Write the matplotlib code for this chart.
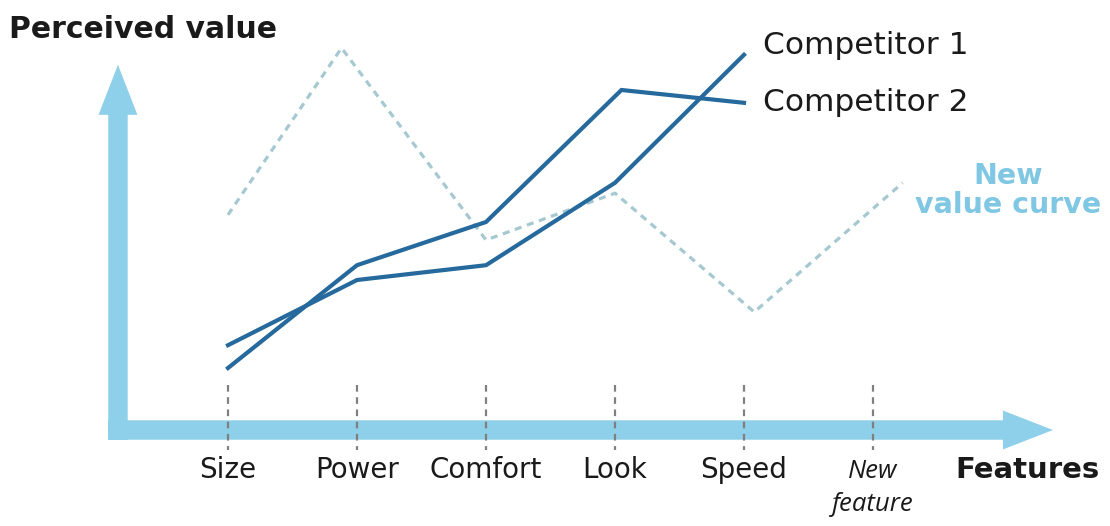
import matplotlib
matplotlib.use("Agg")
import matplotlib.pyplot as plt
from matplotlib.patches import FancyArrowPatch, ArrowStyle

# categories along the feature axis
features = ["Size", "Power", "Comfort", "Look", "Speed", "New\nfeature"]
feat_x = [0, 1, 2, 3, 4, 5]

# perceived value
comp1_x = [0, 1, 2, 3, 4]
comp1_y = [2.12, 3.75, 4.12, 6.18, 9.38]
comp2_x = [0, 1, 2, 3.05, 4]
comp2_y = [1.55, 4.12, 5.2, 8.5, 8.18]
new_x = [0, 0.88, 2, 3, 4.08, 5.23]
new_y = [5.38, 9.55, 4.75, 5.92, 2.95, 6.18]

AXIS_BLUE = "#8ecfe9"
LINE_BLUE = "#26699c"
DASH_COL = "#a6c8d1"

fig = plt.figure(figsize=(11.1, 5.26), dpi=100)
ax = fig.add_axes([0, 0, 1, 1])
# pixel-matched limits: 129 px per feature, 40 px per value unit
ax.set_xlim(-228 / 129, (1110 - 228) / 129)
ax.set_ylim(-96 / 40, 430 / 40)
ax.axis("off")

# axes drawn as thick arrows
style = ArrowStyle.Simple(head_length=3.6, head_width=2.8, tail_width=1.4)
ax.add_patch(FancyArrowPatch((-0.93, 0), (6.395, 0), arrowstyle=style, mutation_scale=10,
                             color=AXIS_BLUE, shrinkA=0, shrinkB=0, lw=0, zorder=1))
ax.add_patch(FancyArrowPatch((-0.853, -0.25), (-0.853, 9.13), arrowstyle=style, mutation_scale=10,
                             color=AXIS_BLUE, shrinkA=0, shrinkB=0, lw=0, zorder=1))

# dashed tick marks
for x in feat_x:
    ax.plot([x, x], [1.12, -0.5], color="#808080", lw=1.6, ls=(0, (3, 2.5)), zorder=2)

# value curves
ax.plot(new_x, new_y, color=DASH_COL, lw=2.3, ls=(0, (2.2, 1.8)), zorder=3)
ax.plot(comp2_x, comp2_y, color=LINE_BLUE, lw=3, solid_joinstyle="miter", zorder=4)
ax.plot(comp1_x, comp1_y, color=LINE_BLUE, lw=3, solid_joinstyle="miter", zorder=4)

TXT = "#1a1a1a"
for x, lab in zip(feat_x, features):
    if "\n" in lab:
        ax.text(x, -1.45, lab, ha="center", va="center", fontsize=18.5, style="italic",
                family="Open Sans", linespacing=1.4, color=TXT)
    else:
        ax.text(x, -1.0, lab, ha="center", va="center", fontsize=20, family="DejaVu Sans",
                color=TXT)

ax.text(6.2, -1.0, "Features", ha="center", va="center", fontsize=21,
        fontweight="bold", family="DejaVu Sans", color=TXT)
ax.text(-1.7, 10.0, "Perceived value", ha="left", va="center", fontsize=21.5,
        fontweight="bold", family="DejaVu Sans", color=TXT)

ax.text(4.15, 9.62, "Competitor 1", ha="left", va="center", fontsize=22.5,
        family="DejaVu Sans", color=TXT)
ax.text(4.15, 8.18, "Competitor 2", ha="left", va="center", fontsize=22.5,
        family="DejaVu Sans", color=TXT)
ax.text(6.05, 5.98, "New\nvalue curve", ha="center", va="center", fontsize=20.5,
        fontweight="bold", color="#7fc7e2", family="DejaVu Sans", linespacing=1.05)

fig.savefig("out.png", dpi=100)
